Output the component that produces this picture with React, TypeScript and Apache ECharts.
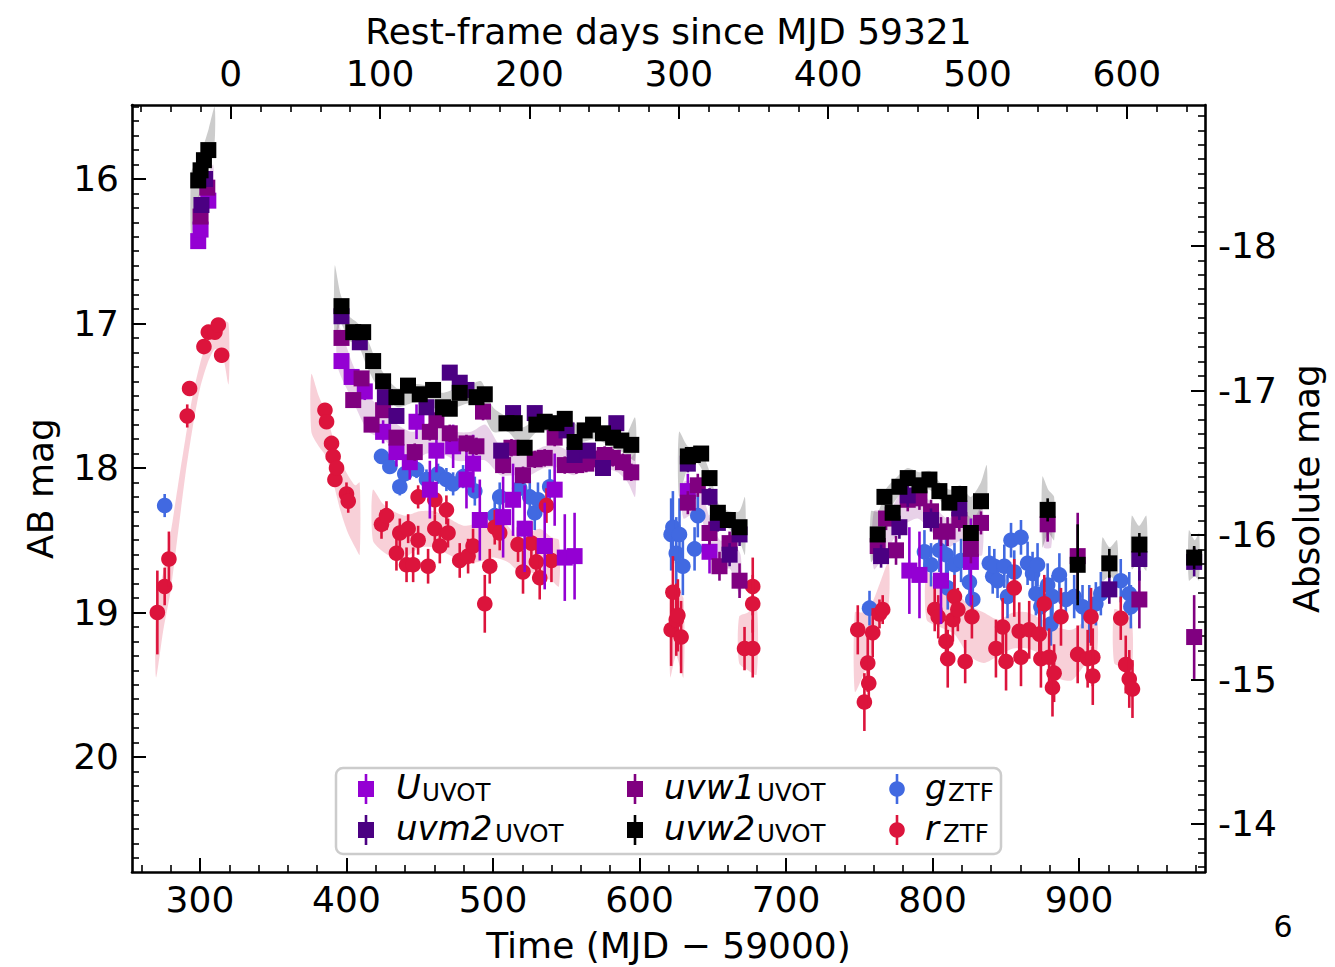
import React, { useEffect, useRef } from 'react';
import * as echarts from 'echarts';

// ---------- axes / ticks ----------
const X_TICKS = [300, 400, 500, 600, 700, 800, 900];
const TOP_TICKS = [0, 100, 200, 300, 400, 500, 600];
const Y_TICKS = [16, 17, 18, 19, 20];
const ABS_TICKS = [-18, -17, -16, -15, -14];
const X_MIN = 253.6;
const X_MAX = 986.0;
const Y_MIN = 15.488;
const Y_MAX = 20.796;
const T0 = 321; // MJD 59321 - 59000
const ONE_PLUS_Z = 1.0195;
const DIST_MOD = 34.463;

// ---------- photometry: [MJD-59000, AB mag, error] ----------
const U_UVOT = [
  [298.8, 16.43, 0.04], [300.4, 16.35, 0.04], [305.7, 16.15, 0.04],
  [396.6, 17.26, 0.04], [403.5, 17.37, 0.05], [412.5, 17.47, 0.06], [425, 17.75, 0.08], [434.1, 17.89, 0.1],
  [443.2, 17.96, 0.12], [447.8, 17.68, 0.12], [456.9, 18.15, 0.2], [461.4, 17.88, 0.15], [472.8, 17.85, 0.15],
  [481.9, 18.08, 0.2], [486.4, 17.97, 0.2], [491, 18.36, 0.28], [506.9, 18.34, 0.28], [513.7, 18.22, 0.25],
  [521.6, 18.42, 0.3], [535.3, 18.54, 0.3], [542.1, 18.15, 0.25], [549, 18.62, 0.3], [555.7, 18.61, 0.3],
  [633, 18.16, 0.12], [647.8, 18.58, 0.15],
  [784.2, 18.71, 0.3], [791.1, 18.74, 0.3], [805.8, 18.78, 0.3], [826.2, 18.65, 0.3],
];
const UVM2_UVOT = [
  [301, 16.18, 0.04], [303.5, 16.0, 0.04],
  [396.6, 16.95, 0.04], [409.1, 17.13, 0.04], [426.2, 17.51, 0.05], [434.1, 17.64, 0.05], [454.6, 17.58, 0.05],
  [470.5, 17.34, 0.05], [477.3, 17.41, 0.05], [481.9, 17.46, 0.05], [505.6, 17.88, 0.05], [513.7, 17.62, 0.05],
  [528.5, 17.62, 0.05], [550.2, 17.74, 0.05], [555.7, 17.91, 0.05], [564.8, 17.88, 0.05], [575.1, 18.0, 0.05],
  [584.2, 17.69, 0.05],
  [633, 17.97, 0.06], [647.8, 18.2, 0.06], [653.5, 18.38, 0.06], [661.5, 18.6, 0.08], [668.3, 18.46, 0.08],
  [764.9, 18.61, 0.08], [777.4, 18.41, 0.08], [783.1, 18.19, 0.08], [799, 18.36, 0.08], [818.3, 18.28, 0.08],
  [920.7, 18.84, 0.1], [941.2, 18.63, 0.15], [978.6, 18.65, 0.1],
];
const UVW1_UVOT = [
  [300.4, 16.26, 0.04], [305.0, 16.06, 0.04],
  [396.6, 17.1, 0.04], [404.6, 17.53, 0.05], [410.3, 17.38, 0.05], [417.1, 17.7, 0.05], [425, 17.6, 0.05],
  [434.1, 17.79, 0.05], [446.6, 17.89, 0.06], [456.9, 17.75, 0.06], [461.4, 17.67, 0.06], [470.5, 17.76, 0.06],
  [481.9, 17.83, 0.06], [488.7, 17.85, 0.06], [493.2, 17.61, 0.06], [506.9, 17.98, 0.06], [512.6, 17.86, 0.06],
  [520.5, 18.05, 0.06], [528.5, 17.94, 0.06], [535.3, 17.93, 0.06], [542.1, 17.79, 0.06], [549, 17.98, 0.06],
  [556.9, 17.98, 0.06], [563.7, 17.97, 0.06], [570.5, 17.94, 0.06], [576.2, 17.91, 0.06], [581.8, 17.93, 0.06],
  [588.7, 17.96, 0.06], [594.4, 18.03, 0.06],
  [633, 18.24, 0.08], [639.8, 18.12, 0.08], [647.8, 18.45, 0.08], [654.6, 18.68, 0.1], [661.5, 18.52, 0.08],
  [668.3, 18.78, 0.12],
  [762.6, 18.54, 0.1], [768.3, 18.35, 0.08], [775.1, 18.57, 0.1], [783.1, 18.22, 0.08], [791.1, 18.21, 0.08],
  [799, 18.3, 0.08], [805.8, 18.44, 0.1], [810.3, 18.44, 0.1], [818.3, 18.36, 0.08], [826.2, 18.56, 0.1],
  [833.1, 18.38, 0.08], [878.6, 18.39, 0.12], [899.1, 18.61, 0.3], [941.2, 18.91, 0.2], [978.6, 19.17, 0.29],
];
const UVW2_UVOT = [
  [298.8, 16.01, 0.03], [300.4, 15.94, 0.03], [302.7, 15.87, 0.03], [305.7, 15.8, 0.03],
  [396.6, 16.88, 0.03], [404.6, 17.06, 0.03], [411.4, 17.06, 0.03], [418.2, 17.26, 0.03], [425, 17.4, 0.03],
  [434.1, 17.51, 0.03], [442, 17.43, 0.03], [450, 17.49, 0.03], [459.1, 17.46, 0.03], [465.9, 17.58, 0.03],
  [470.5, 17.59, 0.03], [477.3, 17.48, 0.03], [488.7, 17.51, 0.03], [494.4, 17.49, 0.03], [509.2, 17.69, 0.03],
  [514.8, 17.69, 0.03], [521.6, 17.86, 0.03], [529.6, 17.7, 0.03], [535.3, 17.68, 0.03], [543.3, 17.69, 0.03],
  [549, 17.66, 0.03], [555.7, 17.82, 0.03], [562.6, 17.74, 0.03], [568.3, 17.7, 0.03], [575.1, 17.76, 0.03],
  [582, 17.79, 0.03], [587.6, 17.81, 0.03], [594.4, 17.84, 0.03],
  [633, 17.92, 0.04], [636.4, 17.91, 0.04], [642.1, 17.9, 0.04], [647.8, 18.07, 0.04], [653.5, 18.31, 0.04],
  [660.3, 18.36, 0.04], [668.3, 18.41, 0.05],
  [762.6, 18.46, 0.05], [767.2, 18.2, 0.05], [772.8, 18.31, 0.05], [777.4, 18.13, 0.04], [783.1, 18.07, 0.04],
  [791.1, 18.12, 0.04], [797.9, 18.08, 0.04], [804.7, 18.16, 0.04], [811.5, 18.24, 0.04], [818.3, 18.18, 0.04],
  [826.2, 18.45, 0.05], [833.1, 18.23, 0.05], [878.6, 18.29, 0.08], [899.1, 18.67, 0.28], [920.7, 18.66, 0.1],
  [941.2, 18.53, 0.08], [978.6, 18.62, 0.08],
];
const G_ZTF = [
  [275.9, 18.26, 0.08],
  [423.9, 17.92, 0.05], [429.6, 17.99, 0.05], [436.4, 18.13, 0.06], [439.8, 18.04, 0.06], [447.8, 18.01, 0.06],
  [454.6, 18.08, 0.07], [462.5, 18.04, 0.07], [468.2, 18.08, 0.08], [472.8, 18.11, 0.08], [479.6, 18.06, 0.08],
  [487.6, 18.16, 0.1], [501.2, 18.33, 0.12], [504.6, 18.2, 0.1], [518.2, 18.14, 0.12], [525.1, 18.2, 0.12],
  [528.5, 18.31, 0.12], [530.7, 18.22, 0.12], [538.7, 18.13, 0.12],
  [621.6, 18.46, 0.25], [622.8, 18.41, 0.25], [625.1, 18.59, 0.25], [627.3, 18.46, 0.25], [629.6, 18.68, 0.2],
  [637.6, 18.56, 0.15], [639.8, 18.33, 0.15],
  [757, 18.97, 0.12], [794.5, 18.58, 0.15], [799, 18.67, 0.15], [804.7, 18.57, 0.15], [809.3, 18.6, 0.15],
  [810.4, 18.83, 0.15], [815, 18.67, 0.15], [819.5, 18.64, 0.15], [825.2, 18.79, 0.15], [827.5, 18.91, 0.15],
  [838.8, 18.66, 0.12], [841.1, 18.75, 0.12], [842.2, 18.68, 0.12], [844.4, 18.78, 0.12], [849, 18.68, 0.15],
  [851.2, 18.89, 0.15], [853.6, 18.5, 0.12], [855.8, 18.72, 0.15], [860.4, 18.48, 0.12], [864.9, 18.66, 0.15],
  [868.3, 18.73, 0.15], [870.6, 18.87, 0.15], [871.7, 18.67, 0.15], [874, 18.96, 0.15], [878.6, 18.81, 0.15],
  [880.8, 19.08, 0.15], [881.9, 18.89, 0.15], [886.6, 18.74, 0.15], [891, 18.91, 0.15], [896.7, 18.89, 0.15],
  [902.4, 18.96, 0.15], [907, 19.01, 0.2], [911.5, 18.94, 0.15], [914.9, 18.87, 0.15], [928.5, 18.78, 0.15],
  [934.3, 18.87, 0.15], [935.4, 18.96, 0.15],
];
const R_ZTF = [
  [270.9, 19.0, 0.29], [275.9, 18.82, 0.13], [278.8, 18.63, 0.19], [291.3, 17.64, 0.08], [292.9, 17.45, 0.05],
  [302.7, 17.16, 0.03], [305.7, 17.06, 0.03], [310.2, 17.06, 0.03], [312.5, 17.01, 0.03], [314.8, 17.22, 0.05],
  [385.3, 17.6, 0.04], [386.4, 17.68, 0.04], [389.8, 17.83, 0.05], [390.9, 17.92, 0.05], [392.1, 18.08, 0.05],
  [393.2, 18.0, 0.05], [400, 18.18, 0.08], [401.2, 18.23, 0.08], [423.9, 18.39, 0.1], [427.3, 18.33, 0.1],
  [434.1, 18.59, 0.12], [436.4, 18.45, 0.1], [441, 18.67, 0.12], [442.1, 18.42, 0.1], [445.5, 18.67, 0.12],
  [448.9, 18.5, 0.1], [448.9, 18.2, 0.08], [455.7, 18.68, 0.12], [460.3, 18.22, 0.1], [460.3, 18.42, 0.1],
  [463.7, 18.54, 0.12], [468.2, 18.29, 0.1], [469.3, 18.45, 0.1], [477.3, 18.64, 0.12], [483, 18.61, 0.12],
  [486.4, 18.54, 0.12], [494.4, 18.94, 0.2], [497.8, 18.68, 0.12], [501.2, 18.41, 0.12], [504.6, 18.45, 0.12],
  [517.1, 18.53, 0.12], [520.5, 18.72, 0.15], [526.2, 18.52, 0.15], [529.6, 18.65, 0.15], [531.9, 18.76, 0.15],
  [536.5, 18.26, 0.12], [539.9, 18.64, 0.15],
  [621.6, 19.12, 0.25], [622.8, 18.86, 0.25], [625.1, 19.05, 0.25], [626.2, 19.02, 0.25], [628.4, 19.17, 0.25],
  [671.7, 19.25, 0.15], [677.3, 18.82, 0.2], [677.3, 18.94, 0.2], [677.3, 19.25, 0.2],
  [749, 19.12, 0.17], [753.5, 19.62, 0.2], [755.8, 19.35, 0.2], [756.5, 19.49, 0.17], [759.2, 19.14, 0.17],
  [763.8, 19.01, 0.1], [766, 18.98, 0.1], [801.5, 18.98, 0.15], [803.9, 19.03, 0.15], [809.2, 19.2, 0.15],
  [810.4, 19.32, 0.2], [813.9, 19.05, 0.15], [815, 18.89, 0.15], [817.3, 18.98, 0.15], [822.3, 19.34, 0.15],
  [826.9, 19.03, 0.15], [843.3, 19.25, 0.2], [847.9, 19.1, 0.2], [850.2, 19.34, 0.2], [855.8, 18.83, 0.2],
  [859.2, 19.13, 0.2], [860.4, 19.31, 0.2], [866, 19.12, 0.2], [872.9, 19.15, 0.2], [874, 19.32, 0.2],
  [876.3, 18.94, 0.2], [879.6, 19.31, 0.2], [881.9, 19.52, 0.2], [883, 19.42, 0.2], [887.7, 19.03, 0.2],
  [899.1, 19.29, 0.2], [905.9, 19.32, 0.2], [908.2, 19.03, 0.2], [909.4, 19.31, 0.2], [909.4, 19.44, 0.2],
  [928.5, 19.04, 0.15], [931.9, 19.36, 0.2], [934.3, 19.46, 0.2], [936.5, 19.53, 0.2],
];

// ---------- model bands: segments of [MJD-59000, bright edge, faint edge] ----------
const UVW2_BAND = [
  [[294, 15.95, 16.4], [298, 15.88, 16.2], [302, 15.78, 16.02], [306, 15.65, 15.9], [310, 15.5, 15.75]],
  [[392, 16.6, 17.15], [396, 16.8, 17.0], [402, 16.95, 17.12], [408, 17.0, 17.15], [414, 17.1, 17.3],
   [420, 17.25, 17.42], [427, 17.37, 17.52], [435, 17.45, 17.58], [445, 17.42, 17.55], [455, 17.43, 17.55],
   [465, 17.48, 17.62], [475, 17.45, 17.58], [485, 17.42, 17.55], [492, 17.4, 17.6], [500, 17.58, 17.75],
   [510, 17.65, 17.75], [520, 17.72, 17.85], [530, 17.66, 17.75], [540, 17.66, 17.75], [550, 17.64, 17.78],
   [560, 17.72, 17.82], [570, 17.7, 17.8], [580, 17.75, 17.85], [590, 17.78, 17.9], [597, 17.65, 17.95]],
  [[627, 17.75, 18.2], [633, 17.85, 18.0], [640, 17.85, 17.97], [647, 18.0, 18.12], [654, 18.25, 18.37],
   [661, 18.3, 18.42], [668, 18.3, 18.5], [672, 18.2, 18.6]],
  [[758, 18.3, 18.65], [763, 18.3, 18.55], [768, 18.15, 18.35], [775, 18.07, 18.22], [783, 18.0, 18.13],
   [791, 18.03, 18.16], [798, 18.02, 18.15], [805, 18.1, 18.22], [812, 18.15, 18.3], [819, 18.12, 18.25],
   [826, 18.2, 18.5], [833, 18.1, 18.3], [837, 17.98, 18.25]],
  [[875, 18.06, 18.55], [879, 18.15, 18.45], [883, 18.2, 18.5]],
  [[916, 18.48, 18.78], [921, 18.55, 18.75], [926, 18.5, 18.78]],
  [[936, 18.33, 18.7], [941, 18.4, 18.65], [946, 18.33, 18.71]],
  [[975, 18.43, 18.78], [979, 18.5, 18.75], [982, 18.45, 18.78]],
];
const UVW1_BAND = [
  [[298, 16.15, 16.4], [305, 15.98, 16.2], [309, 15.9, 16.12]],
  [[394, 17.0, 17.3], [405, 17.3, 17.55], [415, 17.5, 17.75], [425, 17.6, 17.8], [435, 17.7, 17.9],
   [445, 17.75, 17.95], [455, 17.7, 17.9], [465, 17.7, 17.9], [475, 17.75, 17.95], [485, 17.75, 17.95],
   [495, 17.7, 17.95], [505, 17.85, 18.05], [515, 17.9, 18.05], [525, 17.9, 18.05], [535, 17.85, 18.0],
   [545, 17.85, 18.0], [555, 17.9, 18.05], [565, 17.88, 18.0], [575, 17.88, 18.0], [585, 17.9, 18.03],
   [592, 17.95, 18.1], [597, 17.9, 18.2]],
  [[630, 18.1, 18.35], [640, 18.1, 18.3], [648, 18.35, 18.55], [655, 18.5, 18.7], [662, 18.5, 18.7],
   [669, 18.6, 18.9]],
  [[760, 18.3, 18.7], [770, 18.3, 18.55], [780, 18.15, 18.4], [790, 18.15, 18.35], [800, 18.25, 18.45],
   [810, 18.35, 18.55], [820, 18.3, 18.5], [828, 18.35, 18.6], [834, 18.25, 18.6]],
  [[876, 18.25, 18.55], [881, 18.3, 18.55]],
];
const R_BAND = [
  [[270, 18.95, 19.45], [275, 18.72, 19.12], [280, 18.45, 18.85], [285, 18.12, 18.45], [290, 17.8, 18.05],
   [295, 17.5, 17.72], [300, 17.28, 17.45], [305, 17.12, 17.28], [310, 17.02, 17.18], [315, 16.98, 17.2],
   [319.5, 17.0, 17.42]],
  [[376, 17.35, 17.75], [381, 17.5, 17.85], [386, 17.62, 17.92], [391, 17.8, 18.1], [396, 17.95, 18.3],
   [401, 18.05, 18.45], [406, 18.12, 18.55], [409, 18.1, 18.6]],
  [[418, 18.15, 18.5], [425, 18.25, 18.58], [432, 18.3, 18.62], [440, 18.33, 18.62], [450, 18.3, 18.55],
   [460, 18.3, 18.55], [470, 18.35, 18.6], [480, 18.4, 18.65], [490, 18.38, 18.65], [500, 18.35, 18.62],
   [510, 18.4, 18.65], [518, 18.5, 18.72], [525, 18.45, 18.72], [532, 18.42, 18.75], [540, 18.48, 18.78],
   [545, 18.5, 18.82]],
  [[621, 18.8, 19.45], [625, 18.85, 19.3], [630, 18.9, 19.45]],
  [[668, 19.03, 19.35], [674, 19.0, 19.4], [680, 18.95, 19.43]],
  [[747, 19.0, 19.55], [752, 19.0, 19.45], [758, 18.95, 19.3], [764, 18.8, 19.05], [770, 18.65, 18.95]],
  [[796, 18.72, 19.05], [805, 18.8, 19.1], [815, 18.85, 19.15], [825, 18.95, 19.3], [835, 19.0, 19.35],
   [845, 19.05, 19.3], [855, 19.0, 19.25], [865, 19.0, 19.25], [875, 19.05, 19.3], [885, 19.1, 19.45],
   [895, 19.12, 19.47], [905, 19.05, 19.35], [912, 19.0, 19.3]],
  [[924, 18.98, 19.35], [930, 19.0, 19.38], [936, 19.05, 19.4]],
];

const FONT = "'DejaVu Sans', 'Liberation Sans', sans-serif";
const FS = 36;

const COLORS = {
  U: '#9400D3',
  uvm2: '#4B0082',
  uvw1: '#800080',
  uvw2: '#000000',
  g: '#4169E1',
  r: '#DC143C',
};

const SQ = 16;
const CR = 7.8;

function minorValues(lo: number, hi: number, step: number, major: number) {
  const out: number[] = [];
  const n0 = Math.ceil(lo / step);
  const n1 = Math.floor(hi / step);
  for (let k = n0; k <= n1; k++) {
    const v = Math.round(k * step * 1000) / 1000;
    if (Math.abs(v / major - Math.round(v / major)) > 1e-6) out.push(v);
  }
  return out;
}

function pointSeries(name: string, data: number[][], color: string, shape: 'square' | 'circle') {
  return {
    type: 'custom',
    name,
    xAxisIndex: 0,
    yAxisIndex: 0,
    clip: true,
    z: 5,
    encode: { x: 0, y: 1 },
    data,
    renderItem: (params: any, api: any) => {
      const x = api.value(0);
      const y = api.value(1);
      const e = api.value(2);
      const p = api.coord([x, y]);
      const pa = api.coord([x, y - e]);
      const pb = api.coord([x, y + e]);
      const children: any[] = [
        { type: 'line', shape: { x1: p[0], y1: pa[1], x2: p[0], y2: pb[1] }, style: { stroke: color, lineWidth: 2.6 } },
      ];
      if (shape === 'square') {
        children.push({ type: 'rect', shape: { x: p[0] - SQ / 2, y: p[1] - SQ / 2, width: SQ, height: SQ }, style: { fill: color } });
      } else {
        children.push({ type: 'circle', shape: { cx: p[0], cy: p[1], r: CR }, style: { fill: color } });
      }
      return { type: 'group', children };
    },
  };
}

function bandSeries(segs: number[][][], fill: string) {
  return {
    type: 'custom',
    xAxisIndex: 0,
    yAxisIndex: 0,
    clip: true,
    z: 2,
    silent: true,
    encode: { x: 0, y: 1 },
    data: segs.map((s, i) => [s[0][0], s[0][1], i]),
    renderItem: (params: any, api: any) => {
      const seg = segs[api.value(2)];
      const top = seg.map((d) => api.coord([d[0], d[1]]));
      const bot = seg.slice().reverse().map((d) => api.coord([d[0], d[2]]));
      return { type: 'polygon', shape: { points: top.concat(bot), smooth: 0.25 }, style: { fill } };
    },
  };
}

export default function App() {
  const ref = useRef<HTMLDivElement>(null);
  useEffect(() => {
    if (!ref.current) return;
    const chart = echarts.init(ref.current, undefined, { renderer: 'svg' });
    const topMin = (X_MIN - T0) / ONE_PLUS_Z;
    const topMax = (X_MAX - T0) / ONE_PLUS_Z;
    const absMin = Y_MIN - DIST_MOD;
    const absMax = Y_MAX - DIST_MOD;
    const labelStyle = { fontSize: FS, fontFamily: FONT, color: '#000' };
    const line = { show: true, onZero: false, lineStyle: { color: '#000', width: 2.6 } };
    const noLine = { show: false, onZero: false };
    const majorTick = (vals: number[]) => ({ show: true, inside: true, length: 14, lineStyle: { color: '#000', width: 2 }, customValues: vals });
    const minorTick = (vals: number[]) => ({ show: true, inside: true, length: 7, lineStyle: { color: '#000', width: 1.6 }, customValues: vals });
    const none = { show: false };

    const legendItems = [
      { key: 'U', main: 'U', sub: 'UVOT', mx: 366, my: 789, tx: 396, sx: 422, shape: 'square' },
      { key: 'uvm2', main: 'uvm2', sub: 'UVOT', mx: 366, my: 830, tx: 396, sx: 495, shape: 'square' },
      { key: 'uvw1', main: 'uvw1', sub: 'UVOT', mx: 635, my: 789, tx: 664, sx: 757, shape: 'square' },
      { key: 'uvw2', main: 'uvw2', sub: 'UVOT', mx: 635, my: 830, tx: 664, sx: 757, shape: 'square' },
      { key: 'g', main: 'g', sub: 'ZTF', mx: 897, my: 789, tx: 925, sx: 948, shape: 'circle' },
      { key: 'r', main: 'r', sub: 'ZTF', mx: 897, my: 830, tx: 925, sx: 943, shape: 'circle' },
    ];
    const legendGraphics: any[] = [
      {
        type: 'rect', z: 100, x: 336, y: 768,
        shape: { width: 665, height: 86, r: 7 },
        style: { fill: 'rgba(255,255,255,0.8)', stroke: '#cccccc', lineWidth: 2.5 },
      },
    ];
    legendItems.forEach((it) => {
      const c = (COLORS as any)[it.key];
      legendGraphics.push({ type: 'line', z: 101, shape: { x1: it.mx, y1: it.my - 15, x2: it.mx, y2: it.my + 15 }, style: { stroke: c, lineWidth: 2.6 } });
      if (it.shape === 'square') {
        legendGraphics.push({ type: 'rect', z: 102, shape: { x: it.mx - SQ / 2, y: it.my - SQ / 2, width: SQ, height: SQ }, style: { fill: c } });
      } else {
        legendGraphics.push({ type: 'circle', z: 102, shape: { cx: it.mx, cy: it.my, r: CR }, style: { fill: c } });
      }
      legendGraphics.push({
        type: 'text', z: 102, x: it.tx, y: it.my - 2,
        style: { text: it.main, fontSize: 34, fontStyle: 'italic', fontFamily: FONT, fill: '#000', align: 'left', verticalAlign: 'middle' },
      });
      legendGraphics.push({
        type: 'text', z: 102, x: it.sx, y: it.my + 3,
        style: { text: it.sub, fontSize: 24.5, fontFamily: FONT, fill: '#000', align: 'left', verticalAlign: 'middle' },
      });
    });
    legendGraphics.push({
      type: 'text', x: 1283, y: 926,
      style: { text: '6', fontSize: 30, fontFamily: FONT, fill: '#000', align: 'center', verticalAlign: 'middle' },
    });

    chart.setOption({
      animation: false,
      backgroundColor: '#ffffff',
      grid: { left: 132, top: 105, width: 1073, height: 767, containLabel: false, outerBoundsMode: 'none' },
      xAxis: [
        {
          type: 'value', position: 'bottom', min: X_MIN, max: X_MAX,
          axisLine: line, axisTick: majorTick(X_TICKS), splitLine: none,
          axisLabel: { ...labelStyle, customValues: X_TICKS, margin: 9 },
          name: 'Time (MJD \u2212 59000)', nameLocation: 'middle', nameGap: 55, nameTextStyle: labelStyle,
        },
        {
          type: 'value', position: 'bottom', min: X_MIN, max: X_MAX,
          axisLine: noLine, axisTick: minorTick(minorValues(X_MIN, X_MAX, 20, 100)), axisLabel: none, splitLine: none,
        },
        {
          type: 'value', position: 'top', min: topMin, max: topMax,
          axisLine: line, axisTick: majorTick(TOP_TICKS), splitLine: none,
          axisLabel: { ...labelStyle, customValues: TOP_TICKS, margin: 14 },
          name: 'Rest-frame days since MJD 59321', nameLocation: 'middle', nameGap: 56, nameTextStyle: labelStyle,
        },
        {
          type: 'value', position: 'top', min: topMin, max: topMax,
          axisLine: noLine, axisTick: minorTick(minorValues(topMin, topMax, 20, 100)), axisLabel: none, splitLine: none,
        },
      ],
      yAxis: [
        {
          type: 'value', position: 'left', inverse: true, min: Y_MIN, max: Y_MAX,
          axisLine: line, axisTick: majorTick(Y_TICKS), splitLine: none,
          axisLabel: { ...labelStyle, customValues: Y_TICKS, margin: 13 },
          name: 'AB mag', nameLocation: 'middle', nameRotate: 90, nameGap: 74, nameTextStyle: labelStyle,
        },
        {
          type: 'value', position: 'left', inverse: true, min: Y_MIN, max: Y_MAX,
          axisLine: noLine, axisTick: minorTick(minorValues(Y_MIN, Y_MAX, 0.1, 1)), axisLabel: none, splitLine: none,
        },
        {
          type: 'value', position: 'right', inverse: true, min: absMin, max: absMax,
          axisLine: line, axisTick: majorTick(ABS_TICKS), splitLine: none,
          axisLabel: { ...labelStyle, customValues: ABS_TICKS, margin: 13, formatter: (v: number) => String(v) },
          name: 'Absolute mag', nameLocation: 'middle', nameRotate: 90, nameGap: 83, nameTextStyle: labelStyle,
        },
        {
          type: 'value', position: 'right', inverse: true, min: absMin, max: absMax,
          axisLine: noLine, axisTick: minorTick(minorValues(absMin, absMax, 0.1, 1)), axisLabel: none, splitLine: none,
        },
      ],
      series: [
        bandSeries(R_BAND, 'rgba(220,20,60,0.2)'),
        bandSeries(UVW1_BAND, 'rgba(128,0,128,0.18)'),
        bandSeries(UVW2_BAND, 'rgba(0,0,0,0.2)'),
        pointSeries('g', G_ZTF, COLORS.g, 'circle'),
        pointSeries('r', R_ZTF, COLORS.r, 'circle'),
        pointSeries('U', U_UVOT, COLORS.U, 'square'),
        pointSeries('uvw1', UVW1_UVOT, COLORS.uvw1, 'square'),
        pointSeries('uvm2', UVM2_UVOT, COLORS.uvm2, 'square'),
        pointSeries('uvw2', UVW2_UVOT, COLORS.uvw2, 'square'),
      ],
      graphic: legendGraphics,
    });
    return () => chart.dispose();
  }, []);
  return <div ref={ref} style={{ position: 'absolute', left: 0, top: 0, width: 1335, height: 967, background: '#fff' }} />;
}
